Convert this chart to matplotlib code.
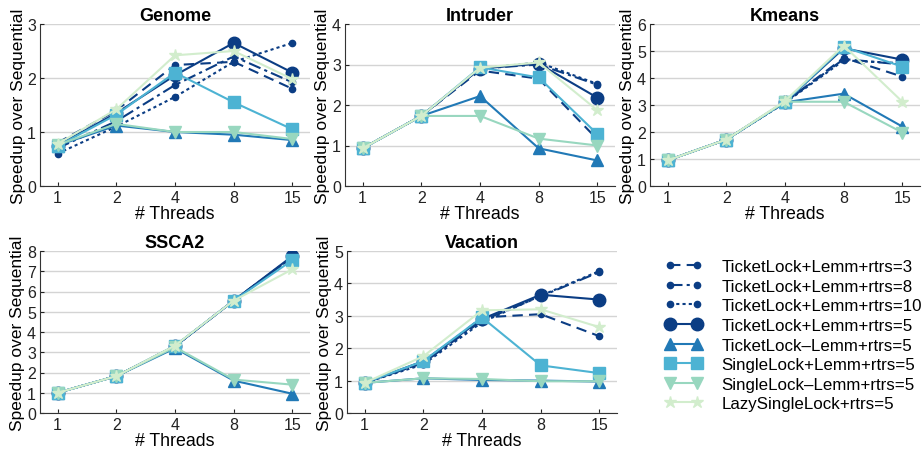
import matplotlib
matplotlib.use('Agg')
import matplotlib.pyplot as plt

plt.rcParams['font.family'] = ['Liberation Sans', 'DejaVu Sans']

threads = ['1', '2', '4', '8', '15']

labels = ['TicketLock+Lemm+rtrs=3', 'TicketLock+Lemm+rtrs=8',
          'TicketLock+Lemm+rtrs=10', 'TicketLock+Lemm+rtrs=5',
          'TicketLock\u2013Lemm+rtrs=5', 'SingleLock+Lemm+rtrs=5',
          'SingleLock\u2013Lemm+rtrs=5', 'LazySingleLock+rtrs=5']

# values per benchmark, one row per series (same order as labels)
genome = [
    [0.80, 1.40, 2.24, 2.30, 1.80],
    [0.70, 1.20, 1.87, 2.40, 1.92],
    [0.60, 1.10, 1.65, 2.30, 2.65],
    [0.75, 1.35, 2.05, 2.65, 2.10],
    [0.75, 1.12, 1.00, 0.95, 0.85],
    [0.74, 1.32, 2.10, 1.55, 1.05],
    [0.76, 1.15, 1.00, 1.00, 0.87],
    [0.78, 1.42, 2.42, 2.50, 1.98],
]
intruder = [
    [0.93, 1.73, 2.85, 2.65, 1.15],
    [0.93, 1.73, 2.90, 3.00, 2.50],
    [0.93, 1.73, 2.90, 3.05, 2.52],
    [0.93, 1.73, 2.90, 3.02, 2.18],
    [0.93, 1.73, 2.22, 0.93, 0.63],
    [0.93, 1.73, 2.93, 2.68, 1.28],
    [0.93, 1.73, 1.73, 1.17, 1.00],
    [0.93, 1.73, 2.92, 3.05, 1.87],
]
kmeans = [
    [0.95, 1.72, 3.10, 4.75, 4.05],
    [0.95, 1.72, 3.10, 4.70, 4.50],
    [0.95, 1.72, 3.08, 4.65, 4.55],
    [0.95, 1.72, 3.12, 5.10, 4.68],
    [0.95, 1.72, 3.10, 3.42, 2.20],
    [0.95, 1.72, 3.12, 5.15, 4.42],
    [0.95, 1.72, 3.12, 3.12, 1.98],
    [0.95, 1.72, 3.15, 5.20, 3.12],
]
ssca2 = [
    [1.00, 1.82, 3.30, 5.55, 7.70],
    [1.00, 1.82, 3.30, 5.55, 7.70],
    [1.00, 1.82, 3.30, 5.55, 7.70],
    [1.00, 1.82, 3.30, 5.55, 7.75],
    [1.00, 1.82, 3.20, 1.60, 0.95],
    [1.00, 1.82, 3.32, 5.55, 7.55],
    [1.00, 1.82, 3.25, 1.65, 1.40],
    [1.00, 1.82, 3.33, 5.55, 7.10],
]
vacation = [
    [0.93, 1.55, 2.95, 3.05, 2.37],
    [0.93, 1.55, 2.85, 3.60, 4.35],
    [0.93, 1.50, 2.80, 3.62, 4.38],
    [0.93, 1.60, 2.90, 3.65, 3.50],
    [0.93, 1.07, 1.02, 1.00, 0.97],
    [0.93, 1.60, 2.95, 1.47, 1.23],
    [0.93, 1.07, 1.05, 0.98, 0.98],
    [0.93, 1.75, 3.17, 3.20, 2.65],
]

benchmarks = [('Genome', genome, 3), ('Intruder', intruder, 4),
              ('Kmeans', kmeans, 6), ('SSCA2', ssca2, 8),
              ('Vacation', vacation, 5)]

navy = '#0b3d84'
colors = [navy, navy, navy, navy, '#2179b6', '#4db3d3', '#98d7bf', '#d2edcd']
styles = [(0, (5, 3)), (0, (6, 2, 1.5, 2)), (0, (1.5, 1.5)), '-', '-', '-', '-', '-']
markers = ['o', 'o', 'o', 'o', '^', 's', 'v', '*']
msizes = [4.5, 4.5, 4.5, 9, 9, 8.5, 9, 9]

fig = plt.figure(figsize=(9.23, 4.52), dpi=100)
W, H = 923.0, 452.0
lefts = [40, 345, 650, 40, 347]
tops = [25, 25, 25, 252, 252]
aw, ah = 270, 162

x = range(len(threads))
for i, (name, data, ymax) in enumerate(benchmarks):
    ax = fig.add_axes([lefts[i] / W, 1 - (tops[i] + ah) / H, aw / W, ah / H])
    for j, vals in enumerate(data):
        ax.plot(x, vals, color=colors[j], linestyle=styles[j], marker=markers[j],
                markersize=msizes[j], linewidth=1.5, label=labels[j])
    ax.set_xlim(-0.3, 4.3)
    ax.set_ylim(0, ymax)
    ax.set_yticks(range(ymax + 1))
    ax.set_xticks(list(x))
    ax.set_xticklabels(threads)
    ax.grid(axis='y', color='#d4d4d4', linewidth=1)
    ax.set_axisbelow(True)
    for s in ['top', 'right']:
        ax.spines[s].set_visible(False)
    for s in ['left', 'bottom']:
        ax.spines[s].set_color('#333333')
    ax.tick_params(direction='in', length=3, labelsize=11.5, pad=3, colors='#222222')
    ax.set_title(name, fontsize=13, fontweight='bold', pad=3)
    ax.set_xlabel('# Threads', fontsize=12.8, labelpad=0)
    ax.set_ylabel('Speedup over Sequential', fontsize=12.5, labelpad=1)

handles, labs = ax.get_legend_handles_labels()
fig.legend(handles, labs, loc='upper left', bbox_to_anchor=(650 / W, 1 - 245 / H),
           frameon=False, fontsize=12.2, numpoints=2, handlelength=2.2,
           labelspacing=0.27, handletextpad=1.1)

plt.savefig('out.png', dpi=100)
